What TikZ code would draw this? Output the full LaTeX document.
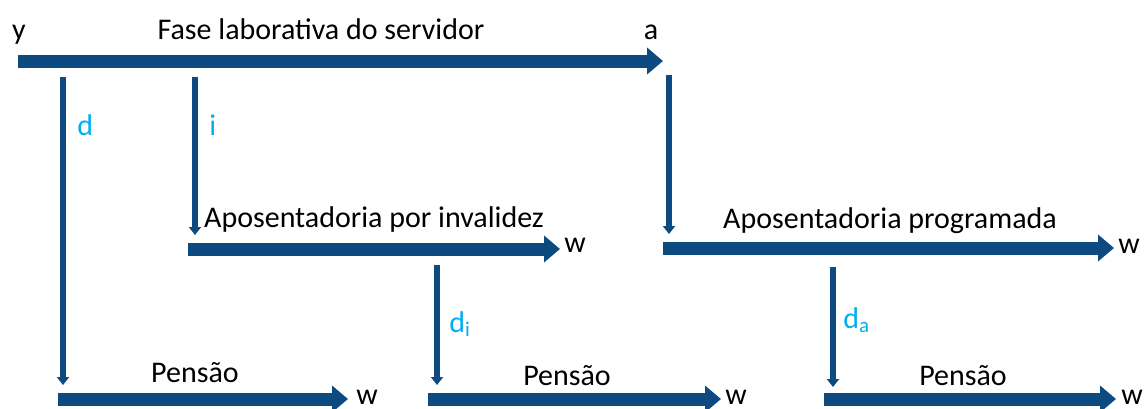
\documentclass[tikz,border=0pt]{standalone}
\usepackage{fontspec}
\setmainfont{Carlito}
\usetikzlibrary{arrows.meta}
\definecolor{barblue}{RGB}{12,74,128}
\definecolor{ratecyan}{RGB}{0,176,240}
\tikzstyle{phase} = [draw=barblue, line width=6.5pt, -{Triangle[width=13pt,length=8pt]}]
\tikzstyle{arrow} = [draw=barblue, line width=3pt, -{Triangle[width=6pt,length=4pt]}]
\tikzstyle{txt} = [anchor=base, inner sep=0pt, font=\fontsize{15}{17}\selectfont]
\tikzstyle{rate} = [txt, text=ratecyan, anchor=base west]

\begin{document}
\begin{tikzpicture}[x=0.5pt, y=-0.5pt]
				\useasboundingbox (0,0) rectangle (1144,408);
				% phase bars
				\coordinate (ystart) at (18,61);
				\coordinate (aend) at (663,61);
				\coordinate (invstart) at (188,249);
				\coordinate (invend) at (560,249);
				\coordinate (progstart) at (663,248);
				\coordinate (progend) at (1114,248);
				\coordinate (pens1start) at (58,399);
				\coordinate (pens1end) at (348,399);
				\coordinate (pens2start) at (428,399);
				\coordinate (pens2end) at (721,399);
				\coordinate (pens3start) at (824,399);
				\coordinate (pens3end) at (1116,399);
				% transitions
				\coordinate (dtop) at (63,77);
				\coordinate (dbot) at (63,385);
				\coordinate (itop) at (195,77);
				\coordinate (ibot) at (195,235);
				\coordinate (atop) at (669,75);
				\coordinate (abot) at (669,234);
				\coordinate (ditop) at (437,265);
				\coordinate (dibot) at (437,385);
				\coordinate (datop) at (833,267);
				\coordinate (dabot) at (833,387);

				\node (ylab)[txt] at (19,39) {y};
				\node (fase)[txt] at (321,39) {Fase laborativa do servidor};
				\node (alab)[txt] at (651,39) {a};
				\node (dlab)[rate] at (77,135) {d};
				\node (ilab)[rate] at (209,135) {i};
				\node (inval)[txt] at (374,227) {Aposentadoria por invalidez};
				\node (winv)[txt] at (575,252) {w};
				\node (prog)[txt] at (890,228) {Aposentadoria programada};
				\node (wprog)[txt] at (1129,253) {w};
				\node (dilab)[rate] at (449,332) {d\textsubscript{i}};
				\node (dalab)[rate] at (843,328) {d\textsubscript{a}};
				\node (pens1)[txt] at (195,382) {Pensão};
				\node (pens2)[txt] at (567,385) {Pensão};
				\node (pens3)[txt] at (963,385) {Pensão};
				\node (w1)[txt] at (367,404) {w};
				\node (w2)[txt] at (736,404) {w};
				\node (w3)[txt] at (1132,404) {w};

				\draw [phase] (ystart) -- (aend);
				\draw [phase] (invstart) -- (invend);
				\draw [phase] (progstart) -- (progend);
				\draw [phase] (pens1start) -- (pens1end);
				\draw [phase] (pens2start) -- (pens2end);
				\draw [phase] (pens3start) -- (pens3end);
				\draw [arrow] (dtop) -- (dbot);
				\draw [arrow] (itop) -- (ibot);
				\draw [arrow] (atop) -- (abot);
				\draw [arrow] (ditop) -- (dibot);
				\draw [arrow] (datop) -- (dabot);
			\end{tikzpicture}
\end{document}
